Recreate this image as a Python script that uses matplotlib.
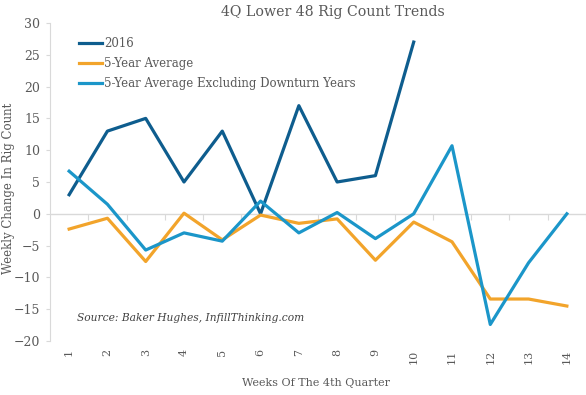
import numpy as np
import matplotlib
matplotlib.use("Agg")
import matplotlib.pyplot as plt

weeks = list(range(1, 15))
rigs_2016 = [3, 13, 15, 5, 13, 0, 17, 5, 6, 27]
avg_5yr = [-2.4, -0.7, -7.5, 0.1, -4.1, -0.2, -1.5, -0.8, -7.3, -1.3, -4.4, -13.4, -13.4, -14.5]
avg_5yr_ex = [6.7, 1.5, -5.7, -3.0, -4.3, 2.0, -3.0, 0.2, -3.9, 0.0, 10.7, -17.4, -7.7, 0.0]
yticks = [-20, -15, -10, -5, 0, 5, 10, 15, 20, 25, 30]

c_2016 = "#0e5d8e"
c_avg = "#f2a42b"
c_ex = "#1b96c9"
grey = "#595959"
line_grey = "#d9d9d9"

plt.rcParams['font.family'] = ['DejaVu Serif']

fig = plt.figure(figsize=(5.86, 3.95), dpi=100)
ax = fig.add_axes([0.0853, 0.1367, 0.9147, 0.8051])

ax.plot(weeks[:len(rigs_2016)], rigs_2016, color=c_2016, lw=2.3, label="2016")
ax.plot(weeks, avg_5yr, color=c_avg, lw=2.3, label="5-Year Average")
ax.plot(weeks, avg_5yr_ex, color=c_ex, lw=2.3, label="5-Year Average Excluding Downturn Years")

ax.set_xlim(0.5, 14.5)
ax.set_ylim(-20, 30)
ax.set_yticks(yticks)
ax.set_xticks(weeks)
ax.set_xticklabels([str(w) for w in weeks], rotation=90)

for s in ["top", "right", "bottom"]:
    ax.spines[s].set_visible(False)
ax.spines["left"].set_color(line_grey)
ax.tick_params(axis="y", colors=grey, labelsize=9, length=3, color=line_grey, pad=4)
ax.tick_params(axis="x", colors=grey, labelsize=8, length=0, pad=6)
for lab in ax.get_yticklabels() + ax.get_xticklabels():
    lab.set_color(grey)

# zero line with category boundary ticks
ax.axhline(0, color=line_grey, lw=1, zorder=0)
zero_pos = (0 - ax.get_ylim()[0]) / (ax.get_ylim()[1] - ax.get_ylim()[0])
sec = ax.secondary_xaxis(zero_pos)
sec.set_xticks(np.arange(1.5, 14.6, 1))
sec.tick_params(length=4, color=line_grey, labelbottom=False, direction="out")
sec.spines["bottom"].set_visible(False)

ax.set_title("4Q Lower 48 Rig Count Trends", fontsize=10.2, color=grey, pad=5, x=0.527)
ax.set_ylabel("Weekly Change In Rig Count", fontsize=8.5, color=grey)
ax.yaxis.set_label_coords(-0.066, 0.48)
ax.set_xlabel("Weeks Of The 4th Quarter", fontsize=8, color=grey)
ax.xaxis.set_label_coords(0.497, -0.115)

ax.text(0.05, 0.063, "Source: Baker Hughes, InfillThinking.com", transform=ax.transAxes,
        fontsize=7.7, style="italic", color="#404040")

leg = ax.legend(loc="upper left", bbox_to_anchor=(0.035, 0.99), frameon=False,
                fontsize=8.5, handlelength=1.9, handletextpad=0.2, labelspacing=0.6)
for t in leg.get_texts():
    t.set_color(grey)

fig.savefig("out.png", dpi=100)
